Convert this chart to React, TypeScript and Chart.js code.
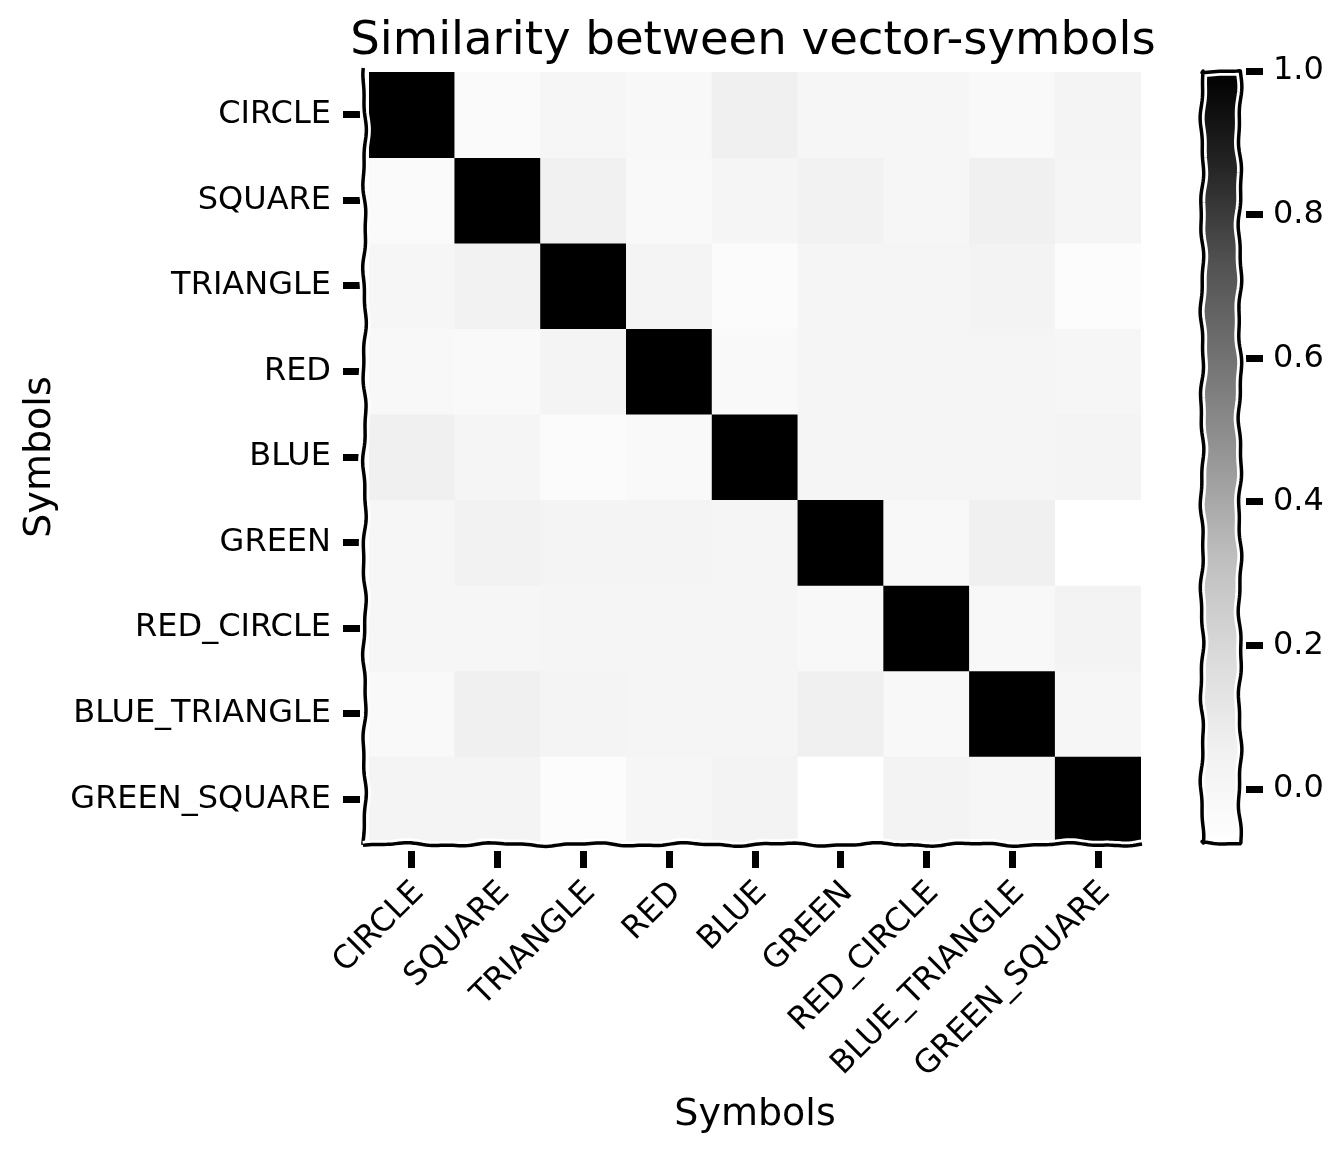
import React, { useEffect, useRef } from 'react';
import { Chart, registerables } from 'chart.js';

Chart.register(...registerables);

const FONT = '"DejaVu Sans", "Liberation Sans", sans-serif';
const TITLE = 'Similarity between vector-symbols';
const AXIS_LABEL = 'Symbols';

const symbols = ['CIRCLE', 'SQUARE', 'TRIANGLE', 'RED', 'BLUE', 'GREEN', 'RED_CIRCLE', 'BLUE_TRIANGLE', 'GREEN_SQUARE'];

// similarity rows (row order = symbols)
const rowCircle = [1.0, -0.03, 0.006, -0.012, 0.059, 0.006, 0.006, -0.021, 0.024];
const rowSquare = [-0.03, 1.0, 0.05, -0.021, 0.015, 0.042, 0.006, 0.059, 0.015];
const rowTriangle = [0.006, 0.042, 1.0, 0.024, -0.039, 0.015, 0.015, 0.033, -0.048];
const rowRed = [-0.012, -0.021, 0.024, 1.0, -0.025, 0.015, 0.015, 0.015, 0.006];
const rowBlue = [0.059, 0.015, -0.039, -0.025, 1.0, 0.015, 0.012, 0.015, 0.028];
const rowGreen = [0.006, 0.038, 0.02, 0.02, 0.015, 1.0, -0.012, 0.059, -0.075];
const rowRedCircle = [0.006, 0.004, 0.015, 0.015, 0.012, -0.012, 1.0, -0.016, 0.033];
const rowBlueTriangle = [-0.025, 0.059, 0.028, 0.015, 0.015, 0.059, -0.016, 1.0, 0.006];
const rowGreenSquare = [0.024, 0.02, -0.048, 0.002, 0.03, -0.075, 0.033, 0.006, 1.0];

const similarity = [rowCircle, rowSquare, rowTriangle, rowRed, rowBlue, rowGreen, rowRedCircle, rowBlueTriangle, rowGreenSquare];

const colorbarTicks = [0.0, 0.2, 0.4, 0.6, 0.8, 1.0];
const VMIN = -0.075;
const VMAX = 1.0;

// matplotlib "Greys" colormap anchors
const greysStops = [255, 240, 217, 189, 150, 115, 82, 37, 0];

function greys(t: number): string {
  const tt = Math.max(0, Math.min(1, t)) * (greysStops.length - 1);
  const i = Math.min(greysStops.length - 2, Math.floor(tt));
  const f = tt - i;
  const g = Math.round(greysStops[i] + (greysStops[i + 1] - greysStops[i]) * f);
  return `rgb(${g},${g},${g})`;
}
function norm(v: number): number {
  return (v - VMIN) / (VMAX - VMIN);
}

type Pt = [number, number];

function wobblyPath(ctx: CanvasRenderingContext2D, pts: Pt[], closed: boolean, amp: number, wl: number, phase: number) {
  ctx.beginPath();
  let first = true;
  let acc = 0;
  const n = closed ? pts.length : pts.length - 1;
  for (let k = 0; k < n; k++) {
    const p0 = pts[k];
    const p1 = pts[(k + 1) % pts.length];
    const dx = p1[0] - p0[0];
    const dy = p1[1] - p0[1];
    const L = Math.hypot(dx, dy);
    const ux = dx / L;
    const uy = dy / L;
    const nx = -uy;
    const ny = ux;
    const steps = Math.max(2, Math.ceil(L / 3));
    for (let i = 0; i <= steps; i++) {
      const s = (i / steps) * L;
      const q = acc + s;
      const off = amp * Math.sin((2 * Math.PI * q) / wl + phase) + amp * 0.45 * Math.sin((2 * Math.PI * q) / (wl * 0.41) + phase * 1.7);
      const x = p0[0] + ux * s + nx * off;
      const y = p0[1] + uy * s + ny * off;
      if (first) {
        ctx.moveTo(x, y);
        first = false;
      } else {
        ctx.lineTo(x, y);
      }
    }
    acc += L;
  }
  if (closed) ctx.closePath();
}

function strokeXkcd(ctx: CanvasRenderingContext2D, pts: Pt[], closed: boolean, phase: number) {
  ctx.save();
  ctx.lineJoin = 'round';
  ctx.lineCap = 'butt';
  wobblyPath(ctx, pts, closed, 1.3, 95, phase);
  ctx.strokeStyle = '#ffffff';
  ctx.lineWidth = 9;
  ctx.stroke();
  wobblyPath(ctx, pts, closed, 1.3, 95, phase);
  ctx.strokeStyle = '#000000';
  ctx.lineWidth = 3.5;
  ctx.stroke();
  ctx.restore();
}

const xkcdMain = {
  id: 'xkcdMain',
  afterDraw(chart: any) {
    const { ctx, chartArea: a } = chart;
    strokeXkcd(ctx, [[a.left - 4.5, a.top - 4], [a.left - 4.5, a.bottom + 3]], false, 0.6);
    strokeXkcd(ctx, [[a.left - 6, a.bottom + 2.5], [a.right + 1, a.bottom + 2.5]], false, 2.1);
    ctx.save();
    ctx.font = `46.6px ${FONT}`;
    ctx.fillStyle = '#000';
    ctx.textAlign = 'center';
    ctx.textBaseline = 'alphabetic';
    ctx.fillText(TITLE, (a.left + a.right) / 2 - 2, 54);
    ctx.restore();
  },
};

const xkcdColorbar = {
  id: 'xkcdColorbar',
  afterDraw(chart: any) {
    const { ctx, chartArea: a } = chart;
    strokeXkcd(
      ctx,
      [
        [a.left, a.top],
        [a.right, a.top],
        [a.right, a.bottom],
        [a.left, a.bottom],
      ],
      true,
      1.3
    );
  },
};

export default function App() {
  const mainRef = useRef<HTMLCanvasElement>(null);
  const cbRef = useRef<HTMLCanvasElement>(null);

  useEffect(() => {
    Chart.defaults.font.family = FONT;
    Chart.defaults.color = '#000';

    const tickGridY = {
      display: true,
      drawOnChartArea: false,
      drawTicks: true,
      tickLength: 26,
      tickWidth: 7,
      tickColor: '#000',
      tickBorderDash: [17, 9],
      tickBorderDashOffset: 0,
    };
    const tickGridX = {
      display: true,
      offset: false,
      drawOnChartArea: false,
      drawTicks: true,
      tickLength: 26,
      tickWidth: 7,
      tickColor: '#000',
      tickBorderDash: [17, 9],
      tickBorderDashOffset: 17,
    };

    const main = new Chart(mainRef.current as HTMLCanvasElement, {
      type: 'bar',
      data: {
        labels: symbols,
        datasets: similarity.map((row, r) => ({
          label: symbols[r],
          data: row.map(() => [r, r + 1]),
          backgroundColor: row.map((v) => greys(norm(v))),
          borderWidth: 0,
          barPercentage: 1,
          categoryPercentage: 1,
          grouped: false,
        })),
      } as any,
      options: {
        responsive: false,
        animation: false,
        events: [],
        layout: { padding: { top: 72, left: 0, right: 39, bottom: 0 } },
        plugins: {
          legend: { display: false },
          tooltip: { enabled: false },
          title: { display: false },
        },
        scales: {
          x: {
            type: 'category',
            position: 'bottom',
            offset: true,
            afterFit: (s: any) => {
              s.height = 313;
            },
            grid: tickGridX,
            border: { display: false },
            ticks: {
              autoSkip: false,
              minRotation: 45,
              maxRotation: 45,
              padding: 6,
              labelOffset: 7,
              font: { size: 32, family: FONT },
              color: '#000',
            },
            title: {
              display: true,
              text: AXIS_LABEL,
              font: { size: 38, family: FONT },
              color: '#000',
              padding: { top: 0, bottom: 17 },
            },
          },
          y: {
            type: 'linear',
            position: 'left',
            min: 0,
            max: symbols.length,
            reverse: true,
            afterFit: (s: any) => {
              s.width = 369;
            },
            afterBuildTicks: (s: any) => {
              s.ticks = symbols.map((_, i) => ({ value: i + 0.5 }));
            },
            grid: tickGridY,
            border: { display: false },
            ticks: {
              padding: 12,
              font: { size: 32, family: FONT },
              color: '#000',
              callback: (_v: any, i: number) => symbols[i],
            },
            title: {
              display: true,
              text: AXIS_LABEL,
              font: { size: 38, family: FONT },
              color: '#000',
              padding: { top: 17, bottom: 0 },
            },
          },
        },
      } as any,
      plugins: [xkcdMain],
    });

    const cb = new Chart(cbRef.current as HTMLCanvasElement, {
      type: 'bar',
      data: {
        labels: ['colorbar'],
        datasets: [
          {
            data: [[VMIN, VMAX]],
            backgroundColor: (c: any) => {
              const area = c.chart.chartArea;
              if (!area) return '#888';
              const g = c.chart.ctx.createLinearGradient(0, area.bottom, 0, area.top);
              greysStops.forEach((v, i) => {
                g.addColorStop(i / (greysStops.length - 1), `rgb(${v},${v},${v})`);
              });
              return g;
            },
            borderWidth: 0,
            barPercentage: 1,
            categoryPercentage: 1,
          },
        ],
      } as any,
      options: {
        responsive: false,
        animation: false,
        events: [],
        layout: { padding: { top: 71, bottom: 312, left: 22, right: 0 } },
        plugins: {
          legend: { display: false },
          tooltip: { enabled: false },
        },
        scales: {
          x: { display: false },
          y: {
            type: 'linear',
            position: 'right',
            min: VMIN,
            max: VMAX,
            afterFit: (s: any) => {
              s.width = 104;
            },
            afterBuildTicks: (s: any) => {
              s.ticks = colorbarTicks.map((v) => ({ value: v }));
            },
            grid: {
              display: true,
              drawOnChartArea: false,
              drawTicks: true,
              tickLength: 23,
              tickWidth: 7,
              tickColor: '#000',
              tickBorderDash: [17, 6],
              tickBorderDashOffset: 17,
            },
            border: { display: false },
            ticks: {
              padding: 10,
              font: { size: 32, family: FONT },
              color: '#000',
              callback: (v: any) => Number(v).toFixed(1),
            },
          },
        },
      } as any,
      plugins: [xkcdColorbar],
    });

    return () => {
      main.destroy();
      cb.destroy();
    };
  }, []);

  return (
    <div style={{ position: 'absolute', left: 0, top: 0, width: 1344, height: 1155, background: '#fff' }}>
      <canvas ref={mainRef} width={1180} height={1155} style={{ position: 'absolute', left: 0, top: 0, width: 1180, height: 1155 }} />
      <canvas ref={cbRef} width={164} height={1155} style={{ position: 'absolute', left: 1180, top: 0, width: 164, height: 1155 }} />
    </div>
  );
}
